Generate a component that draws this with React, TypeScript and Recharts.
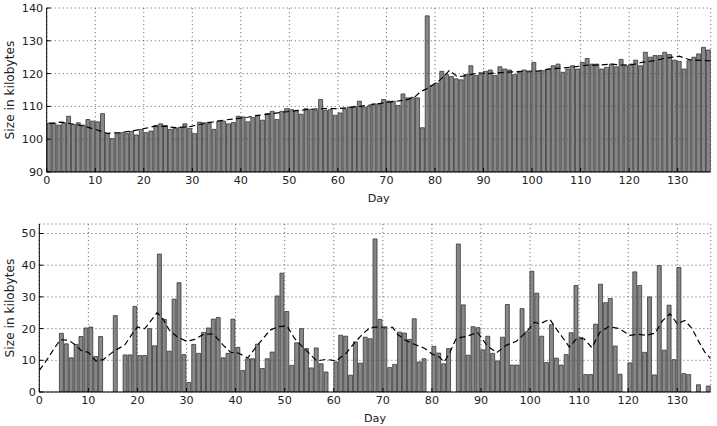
import React from "react";
import { BarChart, Bar, LineChart, Line, XAxis, YAxis, CartesianGrid } from "recharts";

// day index for every bar (0..136)
const days = Array.from({ length: 137 }, (_, i) => i);

// daily total size (kB), top panel
const totalSize = [
  104.9, 104.8, 104.3, 105, 107, 104.5, 105, 104.3, 106, 105.5,
  105.3, 107.8, 101.7, 100.2, 101.7, 102, 101.7, 102.4, 101.3, 103,
  102, 102.5, 104.2, 104.7, 104.2, 103, 103.4, 103.6, 104.7, 103.3,
  101.7, 105.2, 105, 105.2, 103, 105.5, 105.5, 104.7, 105.1, 107,
  106.8, 105.3, 106.6, 107.3, 105.8, 107.8, 108.5, 106, 108.5, 109.3,
  109, 108.8, 107.6, 109.3, 109.1, 108.8, 112.1, 108.8, 109, 107.3,
  108, 109.3, 109.8, 110, 111.6, 109.8, 110.1, 110.8, 110.8, 112.1,
  111.6, 111.6, 110.3, 113.8, 112.6, 112.8, 112.6, 103.5, 137.6, 116.4,
  117.1, 120.7, 119.7, 119.1, 118.4, 118.1, 119.7, 122.4, 119.4, 119.7,
  120.7, 121.1, 119.4, 122.1, 121.4, 121.1, 119.7, 120.4, 121.1, 120.4,
  123.4, 120.7, 120.9, 121.4, 122.4, 122.9, 120.4, 121.4, 122.4, 121.4,
  123.4, 124.6, 122.9, 122.9, 121.4, 121.9, 122.9, 122.1, 124.3, 122.4,
  122.9, 124.1, 122.4, 126.5, 125, 125.5, 125.5, 126.5, 125.8, 124.1,
  123.7, 121.4, 123.9, 125, 126, 128, 127.2,
];

// daily new size (kB), bottom panel
const newSize = [
  0, 0, 0, 0, 18.5, 15.2, 10.8, 15, 17.5, 20.2,
  20.5, 11.2, 17.5, 0, 0, 24.1, 0, 11.7, 11.7, 27,
  11.5, 11.5, 20, 14.6, 43.5, 22.9, 12.9, 29.3, 34.5, 11.8,
  3, 15, 12.2, 18.8, 20.2, 23, 23.5, 10.8, 12.2, 23,
  14.1, 6.8, 10.5, 10.5, 15.1, 7.4, 10.5, 12.6, 30.3, 37.5,
  25.4, 8.4, 15.5, 20, 13.7, 7.6, 13.9, 8.9, 6.3, 0,
  9.5, 17.9, 17.6, 5.3, 15.8, 9.1, 17.3, 16.8, 48.3, 22.9,
  20, 7.7, 8.7, 18.9, 18.6, 16.6, 23.1, 9.5, 10.5, 0,
  14.4, 12.3, 8.9, 13.7, 0, 46.7, 27.5, 11.6, 20.6, 20.3,
  13.3, 17.6, 12.2, 9.8, 17.3, 27.6, 8.5, 8.5, 26.3, 19,
  38.1, 31.2, 17.6, 9.3, 21.2, 10.7, 8.5, 11.8, 18.7, 33.6,
  17.2, 5.5, 5.5, 21.4, 34, 28.2, 29.5, 14.5, 5.6, 0,
  9.2, 37.9, 33.6, 12.5, 30, 5.4, 39.9, 13.2, 27.4, 10.2,
  39.3, 5.8, 5.5, 0, 2.3, 0, 1.9,
];

// dashed trend
const totalTrendDay = [
  0.5, 3, 5.8, 7.6, 10, 12.5, 15, 17.3, 20, 22.4, 24.4, 26.7, 29.7, 32.3, 34.7,
  36.9, 39.2, 41.4, 43.2, 46.4, 49, 51.5, 54.2, 56.9, 59.3, 62, 64.5, 67, 69.6,
  71.7, 74.1, 75.8, 77, 78.5, 81, 83, 84.6, 86.5, 89, 91, 94.5, 98.5, 101.4,
  103.5, 106, 109, 111.5, 113.9, 116.2, 118.3, 120.6, 122.6, 125, 127.5, 130.3,
  132.5, 136.8,
];
const totalTrend = [
  104.8, 105.2, 104.5, 104, 103, 101.8, 102, 102.4, 103.2, 104, 103.9, 103.5,
  103.9, 104.7, 105.4, 105.9, 106.3, 106.7, 107.2, 107.8, 108.3, 108.7, 109.1,
  109.3, 109.3, 109.6, 110, 110.5, 111.1, 111.5, 112, 112.8, 114.5, 115.5, 118,
  121, 119, 119.4, 120.2, 120, 120.4, 120.7, 120.8, 121.4, 121.7, 122.1, 122.6,
  122.6, 122.9, 122.6, 122.7, 123.4, 123.9, 124.7, 125.3, 124.2, 123.9,
];

const newTrendDay = [
  0, 1.7, 3.1, 4.3, 6, 7.4, 8.5, 10, 11.5, 13, 15.3, 17.4, 19, 20, 21.5, 22.5,
  24, 25.3, 26.5, 28, 30, 31.5, 33.5, 35.5, 37.5, 39, 40.5, 42.5, 44.5, 47,
  48.6, 50.5, 52, 53.6, 55, 56.5, 58.5, 60.5, 62.5, 64.5, 66, 67.5, 70, 72,
  73, 74.5, 76.5, 78.5, 80, 81.5, 82.5, 83.5, 85, 87, 89.3, 91.3, 93.2, 95.2,
  97.2, 99.3, 100.9, 102, 104, 105.5, 106.8, 108, 109.5, 111, 112.6, 114.2,
  116, 118.2, 120.3, 122, 123.8, 125.5, 127, 128.5, 130, 131.5, 133, 134.4,
  135.6, 136.8,
];
const newTrend = [
  6.8, 10.5, 13.9, 16.5, 16.3, 14.8, 13.1, 12.5, 9.8, 10.2, 13, 14.8, 18.5,
  20.5, 20, 22, 25, 22.8, 19.5, 17.5, 16, 16.5, 18.2, 18.3, 14.7, 12.5, 12.3,
  10.8, 14.8, 19.5, 20.6, 20.8, 16.9, 14.3, 12.2, 9.8, 10.3, 9.8, 12.2, 16,
  18.5, 20.4, 20.5, 20.4, 18.2, 16.4, 15, 13.8, 12, 11, 9.5, 12, 17, 17.5,
  18.8, 14.5, 12.4, 14.8, 16, 19, 22, 21.5, 23, 19.6, 16.8, 14.2, 16.8, 16.8,
  14, 18.8, 20.6, 20, 17.9, 18.2, 17.9, 18.6, 22.5, 24.7, 21.5, 22.6, 20,
  15.8, 12.6, 10.5,
];

const dayTicks = [0, 10, 20, 30, 40, 50, 60, 70, 80, 90, 100, 110, 120, 130];
const totalTicks = [90, 100, 110, 120, 130, 140];
const newTicks = [0, 10, 20, 30, 40, 50];

const W = 717;
const H = 210;
const FONT = "'DejaVu Sans', sans-serif";
const tickStyle = { fill: "#222", fontSize: 11.2, fontFamily: FONT };

function Panel({ top, sizes, trendDays, trend, domain, ticks, left, bottom }: any) {
  const bars = days.map((d, i) => ({ day: d, size: sizes[i] }));
  const line = trendDays.map((d: number, i: number) => ({ day: d, avg: trend[i] }));
  const xDomain = [0, 136.8];
  return (
    <div style={{ position: "absolute", left: 0, top, width: W, height: H }}>
      <div style={{ position: "absolute", left: 0, top: 0 }}>
        <BarChart width={W} height={H} data={bars} barCategoryGap="10%"
          margin={{ top: 8, right: 6.3, left, bottom }}>
          <XAxis dataKey="day" type="category" hide />
          <YAxis type="number" domain={domain} allowDataOverflow hide />
          <Bar dataKey="size" fill="#878787" stroke="#262626" strokeWidth={0.7} isAnimationActive={false} />
        </BarChart>
      </div>
      <div style={{ position: "absolute", left: 0, top: 0 }}>
        <LineChart width={W} height={H} data={line}
          margin={{ top: 8, right: 6.3, left: left - 40, bottom: 0 }}>
          <CartesianGrid stroke="#555" strokeWidth={0.8} strokeDasharray="1.2 2.8" />
          <XAxis dataKey="day" type="number" domain={xDomain} ticks={dayTicks} allowDataOverflow
            interval={0} height={bottom} tickSize={-4} tickMargin={8.5} tick={tickStyle}
            stroke="#000" />
          <XAxis xAxisId="top" orientation="top" dataKey="day" type="number" domain={xDomain}
            ticks={dayTicks} allowDataOverflow interval={0} height={0} tickSize={-4} tick={false}
            stroke="#000" />
          <YAxis type="number" domain={domain} ticks={ticks} allowDataOverflow interval={0}
            width={40} tickSize={-4} tickMargin={7.5} tick={tickStyle} stroke="#000" />
          <YAxis yAxisId="right" orientation="right" type="number" domain={domain} ticks={ticks}
            allowDataOverflow interval={0} width={0} tickSize={-4} tick={false} stroke="#000" />
          <Line dataKey="avg" type="linear" stroke="#000" strokeWidth={1.2} strokeDasharray="6 3.5"
            dot={false} isAnimationActive={false} />
        </LineChart>
      </div>
    </div>
  );
}

export default function App() {
  const label = { fontFamily: FONT, fill: "#222" };
  return (
    <div style={{ position: "fixed", left: 0, top: 0, width: W, height: 426, background: "#fff" }}>
      <Panel top={0} sizes={totalSize} trendDays={totalTrendDay} trend={totalTrend}
        domain={[90, 140]} ticks={totalTicks} left={46.7} bottom={38} />
      <Panel top={216} sizes={newSize} trendDays={newTrendDay} trend={newTrend}
        domain={[0, 53]} ticks={newTicks} left={39.3} bottom={34} />
      <svg width={W} height={426} style={{ position: "absolute", left: 0, top: 0, pointerEvents: "none" }}>
        <text {...label} fontSize={12.2} x={14} y={90} textAnchor="middle" transform="rotate(-90 14 90)">
          Size in kilobytes
        </text>
        <text {...label} fontSize={11.2} x={378.7} y={201.5} textAnchor="middle">Day</text>
        <text {...label} fontSize={12.2} x={14} y={308} textAnchor="middle" transform="rotate(-90 14 308)">
          Size in kilobytes
        </text>
        <text {...label} fontSize={11.2} x={375} y={421.5} textAnchor="middle">Day</text>
      </svg>
    </div>
  );
}
